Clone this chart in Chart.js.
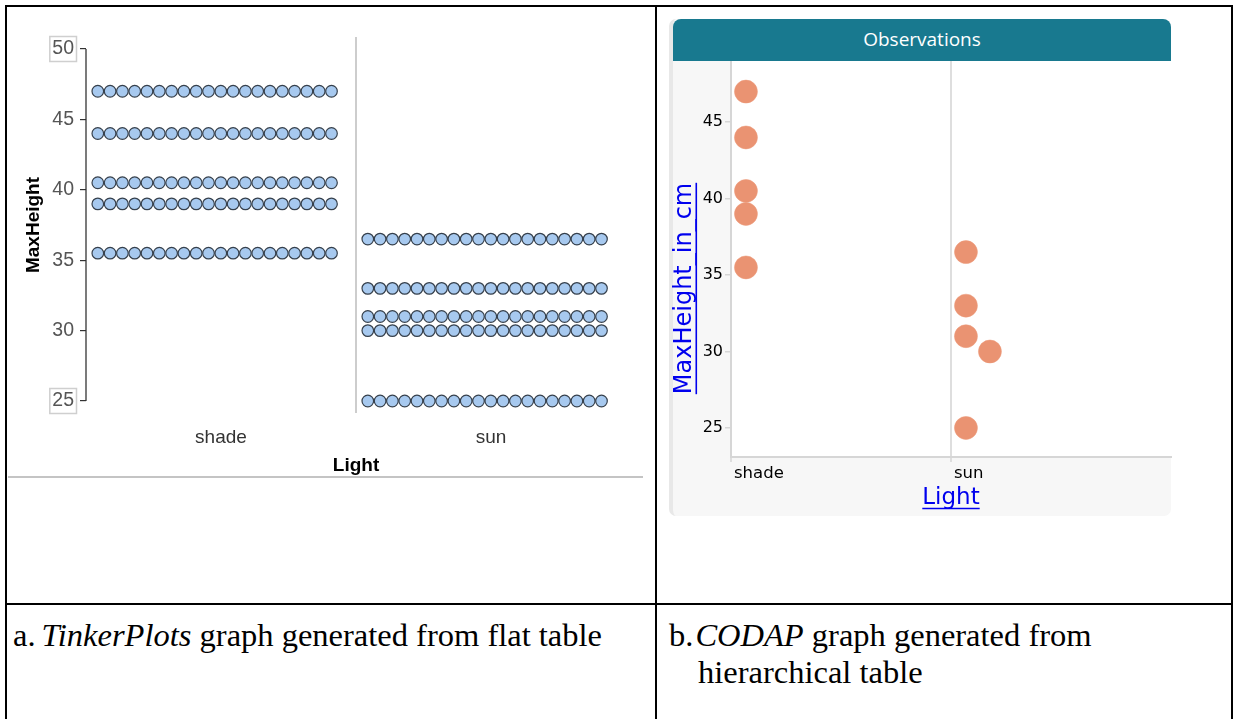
<!DOCTYPE html>
<html><head><meta charset="utf-8">
<script src="https://cdn.jsdelivr.net/npm/chart.js@4.4.0/dist/chart.umd.min.js"></script>
<style>
html,body{margin:0;padding:0;background:#fff;width:1233px;height:719px;overflow:hidden;position:relative}
.bl{position:absolute;background:#000;z-index:5}
#tp{position:absolute;left:0;top:0;z-index:2}
#cd{position:absolute;left:657px;top:7px;z-index:3}
#panel{position:absolute;left:669px;top:19px;width:498px;height:497px;background:#f7f7f7;border-left:4px solid #e8e8e8;border-radius:7px;z-index:1}
#hdr{position:absolute;left:673px;top:19px;width:498px;height:42px;background:#18798f;border-radius:8px 8px 0 0;z-index:4;color:#fff;font-family:"Open Sans",sans-serif;font-size:19px;line-height:41px;text-align:center}
#hr{position:absolute;left:8px;top:476px;width:635px;height:2px;background:#c4c4c4;z-index:1}
.cap{position:absolute;font-family:"Liberation Serif","Times New Roman",serif;font-size:32.5px;line-height:37px;color:#000;z-index:6;white-space:nowrap}
</style></head><body>
<div id="panel"></div>
<div id="hdr">Observations</div>
<div id="hr"></div>
<canvas id="tp" width="655" height="600"></canvas>
<canvas id="cd" width="574" height="596"></canvas>
<div class="bl" style="left:5px;top:5px;width:1228px;height:2px"></div>
<div class="bl" style="left:5px;top:5px;width:2px;height:714px"></div>
<div class="bl" style="left:1231px;top:5px;width:2px;height:714px"></div>
<div class="bl" style="left:655px;top:5px;width:2px;height:714px"></div>
<div class="bl" style="left:5px;top:603px;width:1228px;height:2px"></div>
<div class="cap" style="left:13px;top:617px">a.<span style="margin-left:6px"></span><i>TinkerPlots</i> graph generated from flat table</div>
<div class="cap" style="left:669px;top:617px">b.<i style="margin-left:2px">CODAP</i> graph generated from<br><span style="margin-left:29px">hierarchical table</span></div>
<script>
// ---- data ----
const categories = ['shade', 'sun'];
const shadeHeights = [47, 44, 40.5, 39, 35.5];
const sunHeights = [36.5, 33, 31, 30, 25];
const shadeCounts = [20, 20, 20, 20, 20];   // TinkerPlots: dots per value (flat table)
const sunCounts = [20, 20, 20, 20, 20];
const tinkerYTicks = [25, 30, 35, 40, 45, 50];
const codapYTicks = [25, 30, 35, 40, 45];
const codapYTitle = 'MaxHeight_in_cm';

// TinkerPlots: each case is a dot, stacked sideways in its category bin
function tinkerPoints() {
  const pts = [];
  [[shadeHeights, shadeCounts], [sunHeights, sunCounts]].forEach(([vals, counts], ci) => {
    vals.forEach((v, k) => {
      for (let j = 0; j < counts[k]; j++) pts.push({ x: ci + (11.8 + j * 12.3) / 270, y: v });
    });
  });
  return pts;
}
// CODAP: one dot per parent case; colliding dots shift right one column
function codapPoints() {
  const pts = [];
  const diam = 1.5;
  [shadeHeights, sunHeights].forEach((vals, ci) => {
    const placed = [];
    vals.forEach(v => {
      let col = 0;
      while (placed.some(p => p.col === col && Math.abs(p.v - v) < diam)) col++;
      placed.push({ v, col });
      pts.push({ x: ci + 0.068 + col * 0.109, y: v });
    });
  });
  return pts;
}

const tinkerPlugin = {
  id: 'tinker',
  beforeDatasetsDraw(chart) {
    const { ctx, chartArea, scales: { x, y } } = chart;
    ctx.save();
    ctx.strokeStyle = '#bdbdbd'; ctx.lineWidth = 1.5;
    const dx = x.getPixelForValue(1);
    ctx.beginPath(); ctx.moveTo(dx, chartArea.top); ctx.lineTo(dx, chartArea.bottom); ctx.stroke();
    ctx.strokeStyle = '#333'; ctx.lineWidth = 1.3;
    ctx.beginPath();
    ctx.moveTo(chartArea.left, y.getPixelForValue(tinkerYTicks[tinkerYTicks.length - 1]));
    ctx.lineTo(chartArea.left, y.getPixelForValue(tinkerYTicks[0]));
    ctx.stroke();
    ctx.restore();
  },
  afterDraw(chart) {
    const { ctx, scales: { y } } = chart;
    ctx.save();
    ctx.font = '19.5px "Liberation Sans", Arial, sans-serif';
    ctx.strokeStyle = '#cfcfcf'; ctx.lineWidth = 1.5;
    [tinkerYTicks[0], tinkerYTicks[tinkerYTicks.length - 1]].forEach(v => {
      const cy = y.getPixelForValue(v);
      const w = ctx.measureText(String(v)).width;
      const right = chart.chartArea.left - 6 - 6;
      ctx.strokeRect(right - w - 2.5, cy - 12.5, w + 5, 25);
    });
    ctx.restore();
  }
};

new Chart(document.getElementById('tp'), {
  type: 'scatter',
  data: { datasets: [{ data: tinkerPoints(), pointRadius: 5.8, pointHoverRadius: 5.8,
    pointBackgroundColor: '#a7c9ef', pointBorderColor: '#36404c', pointBorderWidth: 1.2 }] },
  options: {
    responsive: false, animation: false, events: [],
    layout: { padding: { left: 0, top: 37, right: 29, bottom: 123 } },
    plugins: { legend: { display: false }, tooltip: { enabled: false } },
    scales: {
      x: {
        type: 'linear', min: 0, max: 2,
        afterBuildTicks: s => { s.ticks = categories.map((c, i) => ({ value: i + 0.5 })); },
        afterFit: s => { s.height = 64; },
        grid: { display: false, drawTicks: false }, border: { display: false },
        ticks: { padding: 13, color: '#333', maxRotation: 0, autoSkip: false,
          font: { family: '"Liberation Sans", Arial, sans-serif', size: 19 },
          callback: v => categories[Math.floor(v)] },
        title: { display: true, text: 'Light', color: '#000',
          font: { family: '"Liberation Sans", Arial, sans-serif', size: 19, weight: 'bold' },
          padding: { top: 0, bottom: 0 } }
      },
      y: {
        type: 'linear', min: 24.148, max: 50.852,
        afterBuildTicks: s => { s.ticks = tinkerYTicks.map(v => ({ value: v })); },
        afterFit: s => { s.width = 86; },
        grid: { display: true, drawOnChartArea: false, drawTicks: true, tickLength: 6, color: '#333', lineWidth: 1.2 },
        border: { display: false },
        ticks: { padding: 6, color: '#555', font: { family: '"Liberation Sans", Arial, sans-serif', size: 19.5 } },
        title: { display: true, text: 'MaxHeight', color: '#000',
          font: { family: '"Liberation Sans", Arial, sans-serif', size: 19, weight: 'bold' },
          padding: { top: 22, bottom: 0 } }
      }
    }
  },
  plugins: [tinkerPlugin]
});

const codapPlugin = {
  id: 'codap',
  beforeDraw(chart) {
    const { ctx, chartArea: a } = chart;
    ctx.save(); ctx.fillStyle = '#fff';
    ctx.fillRect(a.left, a.top, a.right - a.left, a.bottom - a.top);
    ctx.restore();
  },
  afterDraw(chart) {
    const { ctx, scales: { x, y } } = chart;
    ctx.save();
    ctx.strokeStyle = '#0000ee'; ctx.lineWidth = 1.6;
    // x title underline
    let f = Chart.helpers.toFont(x.options.title.font);
    ctx.font = f.string;
    let w = ctx.measureText(x.options.title.text).width;
    let cx = (x.left + x.right) / 2;
    let cy = x.bottom - (f.lineHeight / 2 + x.options.title.padding.bottom);
    ctx.beginPath(); ctx.moveTo(cx - w / 2, cy + f.size * 0.45); ctx.lineTo(cx + w / 2, cy + f.size * 0.45); ctx.stroke();
    // y title: centred on the whole graph component (axis band + plot)
    f = Chart.helpers.toFont({ family: '"DejaVu Sans", sans-serif', size: 24 });
    ctx.font = f.string;
    w = ctx.measureText(codapYTitle).width;
    cx = y.left + 16;
    cy = (y.top + x.bottom) / 2;
    ctx.translate(cx, cy); ctx.rotate(-Math.PI / 2);
    ctx.fillStyle = '#0000ee'; ctx.textAlign = 'center'; ctx.textBaseline = 'middle';
    ctx.fillText(codapYTitle, 0, 0);
    ctx.beginPath(); ctx.moveTo(-w / 2, f.size * 0.47); ctx.lineTo(w / 2, f.size * 0.47); ctx.stroke();
    ctx.restore();
  }
};

new Chart(document.getElementById('cd'), {
  type: 'scatter',
  data: { datasets: [{ data: codapPoints(), pointRadius: 11.5, pointHoverRadius: 11.5,
    pointBackgroundColor: '#ea9372', pointBorderColor: '#ec9a7b', pointBorderWidth: 0.5 }] },
  options: {
    responsive: false, animation: false, events: [],
    layout: { padding: { left: 12, top: 54, right: 60, bottom: 87 } },
    plugins: { legend: { display: false }, tooltip: { enabled: false } },
    scales: {
      x: {
        type: 'linear', min: 0, max: 2,
        afterBuildTicks: s => { s.ticks = [0, 1, 2].map(v => ({ value: v })); },
        afterFit: s => { s.height = 59; },
        grid: { display: true, drawOnChartArea: true, drawTicks: true, tickLength: 5, lineWidth: 2,
          color: c => (c.tick && c.tick.value === 2) ? 'rgba(0,0,0,0)' : '#dedede' },
        border: { display: true, color: '#d6d6d6', width: 2 },
        ticks: { align: 'start', padding: 2, labelOffset: 3, color: '#000', maxRotation: 0, autoSkip: false,
          font: { family: '"DejaVu Sans", sans-serif', size: 16.5 },
          callback: v => categories[v] || '' },
        title: { display: true, text: 'Light', color: '#0000ee',
          font: { family: '"DejaVu Sans", sans-serif', size: 23 }, padding: { top: 0, bottom: 4 } }
      },
      y: {
        type: 'linear', min: 23.1, max: 49.0,
        afterBuildTicks: s => { s.ticks = codapYTicks.map(v => ({ value: v })); },
        afterFit: s => { s.width = 62; },
        grid: { display: true, drawOnChartArea: false, drawTicks: true, tickLength: 6, color: '#d6d6d6', lineWidth: 1.5 },
        border: { display: true, color: '#d6d6d6', width: 2 },
        ticks: { padding: 2, color: '#000', font: { family: '"DejaVu Sans", sans-serif', size: 16 } },
        title: { display: false }
      }
    }
  },
  plugins: [codapPlugin]
});
</script>
</body></html>
